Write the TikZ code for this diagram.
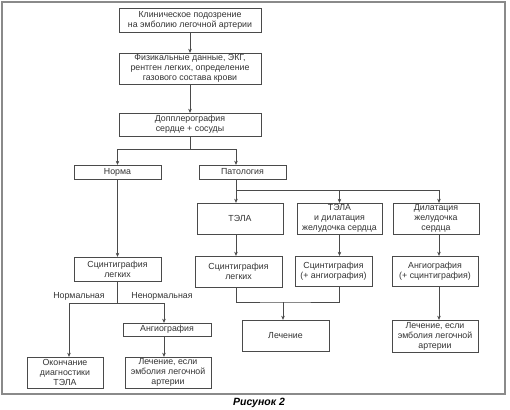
\documentclass[tikz,border=0pt]{standalone}
\usepackage{fontspec}
\setmainfont{Liberation Sans}
\usepackage{tikz}
\usetikzlibrary{arrows.meta}

\definecolor{linegray}{HTML}{4A4A4A}
\definecolor{textgray}{HTML}{333333}
\definecolor{framegray}{HTML}{8A8A8A}

\tikzset{
  box/.style={draw=linegray,fill=white,text=textgray,inner sep=0pt,align=center,
    font=\fontsize{8.8}{10}\selectfont},
  link/.style={draw=linegray,-{Stealth[length=4pt,width=3.5pt]}},
  plain/.style={draw=linegray},
  branch/.style={text=textgray,font=\fontsize{8.8}{10}\selectfont}
}

\begin{document}
\begin{tikzpicture}[x=1pt,y=-1pt]
    \useasboundingbox (0,0) rectangle (510,409);
    \draw [framegray,line width=1.3pt] (2,2) rectangle (505,394);

    % main chain
    \node [box,minimum width=142pt,minimum height=24pt] (clin) at (190,20)
        {Клиническое подозрение\\на эмболию легочной артерии};
    \node [box,minimum width=142pt,minimum height=31pt] (phys) at (190,68.5)
        {Физикальные данные, ЭКГ,\\рентген легких, определение\\газового состава крови};
    \node [box,minimum width=142pt,minimum height=23pt] (dopp) at (190,124.5)
        {Допплерография\\сердце + сосуды};
    \draw [link] (clin) -- (phys);
    \draw [link] (phys) -- (dopp);

    % norm / pathology
    \node [box,minimum width=87pt,minimum height=14pt] (norma) at (117.5,172) {Норма};
    \node [box,minimum width=87pt,minimum height=14pt] (patol) at (242.5,172) {Патология};
    \coordinate (split1) at (190,149);
    \coordinate (pleft) at (236,149);
    \draw [plain] (dopp) -- (split1);
    \draw [link] (split1) -| (norma.north);
    \draw [link] (split1) -| (patol.north -| pleft);

    % pathology branches
    \node [box,minimum width=86pt,minimum height=31pt] (tela) at (240,218.5) {ТЭЛА};
    \node [box,minimum width=85pt,minimum height=31pt] (teladil) at (339.5,218.5)
        {ТЭЛА\\и дилатация\\желудочка сердца};
    \node [box,minimum width=86pt,minimum height=31pt] (dil) at (436,218.5)
        {Дилатация\\желудочка\\сердца};
    \coordinate (split2) at (236,190);
    \coordinate (dcol) at (439,190);
    \draw [plain] (patol.south -| split2) -- (split2);
    \draw [link] (split2) -- (tela.north -| split2);
    \draw [link] (split2) -| (teladil.north);
    \draw [link] (split2) -- (dcol) -- (dil.north -| dcol);

    % second row
    \node [box,minimum width=87pt,minimum height=24pt] (scintL) at (117.5,269)
        {Сцинтиграфия\\легких};
    \node [box,minimum width=87pt,minimum height=31pt] (scintM) at (238.5,271.5)
        {Сцинтиграфия\\легких};
    \node [box,minimum width=77pt,minimum height=30pt] (scintA) at (333.5,271)
        {Сцинтиграфия\\(+ ангиография)};
    \node [box,minimum width=86pt,minimum height=30pt] (angioS) at (435,271)
        {Ангиография\\(+ сцинтиграфия)};
    \draw [link] (norma) -- (scintL);
    \draw [link] (tela.south -| split2) -- (scintM.north -| split2);
    \draw [link] (teladil) -- (scintA.north -| teladil);
    \draw [link] (dil.south -| dcol) -- (angioS.north -| dcol);

    % left results
    \node [box,minimum width=88pt,minimum height=13pt] (angioL) at (167,329.5) {Ангиография};
    \node [box,minimum width=76pt,minimum height=31pt] (okonch) at (65,372.5)
        {Окончание\\диагностики\\ТЭЛА};
    \node [box,minimum width=86pt,minimum height=31pt] (lechL) at (168,372.5)
        {Лечение, если\\эмболия легочной\\артерии};
    \coordinate (split3) at (117.5,303);
    \coordinate (nl) at (69,303);
    \coordinate (nr) at (164,303);
    \draw [plain] (scintL) -- (split3);
    \draw [plain] (nl) -- (nr);
    \draw [link] (nl) -- (okonch.north -| nl);
    \draw [link] (nr) -- (angioL.north -| nr);
    \draw [link] (angioL.south -| nr) -- (lechL.north -| nr);
    \node [branch] (normal) at (79,296.5) {Нормальная};
    \node [branch] (abnormal) at (162,296.5) {Ненормальная};

    % right results
    \node [box,minimum width=87pt,minimum height=31pt] (lech) at (285.5,335.5) {Лечение};
    \node [box,minimum width=86pt,minimum height=32pt] (lechR) at (435,336)
        {Лечение, если\\эмболия легочной\\артерии};
    \coordinate (join) at (283,302);
    \draw [plain] (scintM.south -| split2) |- (join) -| (scintA.south -| teladil);
    \draw [link] (join) -- (lech.north -| join);
    \draw [link] (angioS.south -| dcol) -- (lechR.north -| dcol);

    \node [font=\fontsize{10.5}{12}\selectfont\bfseries\itshape] (caption) at (259,403) {Рисунок 2};
\end{tikzpicture}
\end{document}
